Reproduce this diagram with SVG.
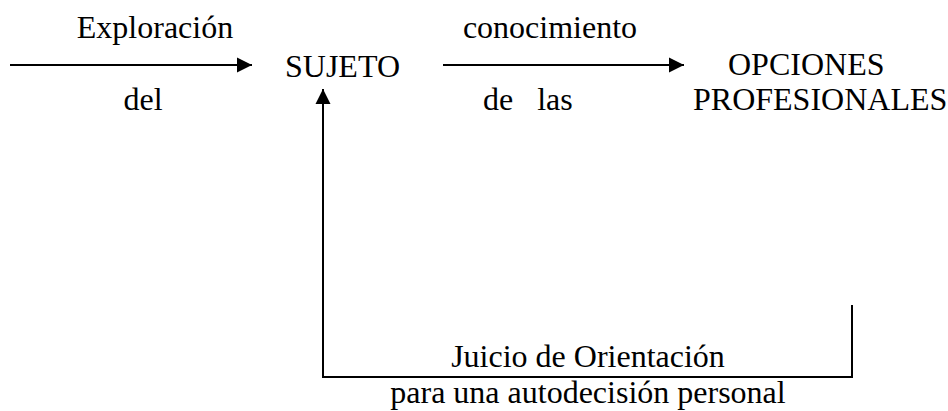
<svg xmlns="http://www.w3.org/2000/svg" width="948" height="411" viewBox="0 0 948 411">
<style>
.t{font-family:'Times New Roman','Liberation Serif','DejaVu Serif',serif;font-size:32px;fill:#000;white-space:pre}
.c{stroke:#000;stroke-width:2;fill:none}
</style>
<defs>
<marker id="ah" markerUnits="userSpaceOnUse" markerWidth="16" markerHeight="16" viewBox="0 0 16 16" refX="15" refY="8" orient="auto">
<path d="M0,0.5 L15,8 L0,15.5 Z" fill="#000"/>
</marker>
</defs>
<rect width="948" height="411" fill="#fff"/>
<g id="connectors">
<line class="c" x1="10" y1="65" x2="252" y2="65" marker-end="url(#ah)"/>
<line class="c" x1="443" y1="65" x2="684" y2="65" marker-end="url(#ah)"/>
<polyline class="c" points="852,305 852,377 323,377 323,89" marker-end="url(#ah)"/>
</g>
<g id="labels">
<text class="t" x="155" y="38" text-anchor="middle">Exploración</text>
<text class="t" x="143" y="110" text-anchor="middle">del</text>
<text class="t" x="550" y="38" text-anchor="middle">conocimiento</text>
<text class="t" x="483" y="110">de   las</text>
<text class="t" x="588" y="367" text-anchor="middle">Juicio de Orientación</text>
<text class="t" x="588" y="403" text-anchor="middle">para una autodecisión personal</text>
</g>
<g id="node-sujeto">
<text class="t" x="285" y="77">SUJETO</text>
</g>
<g id="node-opciones">
<text class="t" x="728" y="75">OPCIONES</text>
<text class="t" x="693" y="110">PROFESIONALES</text>
</g>
</svg>
